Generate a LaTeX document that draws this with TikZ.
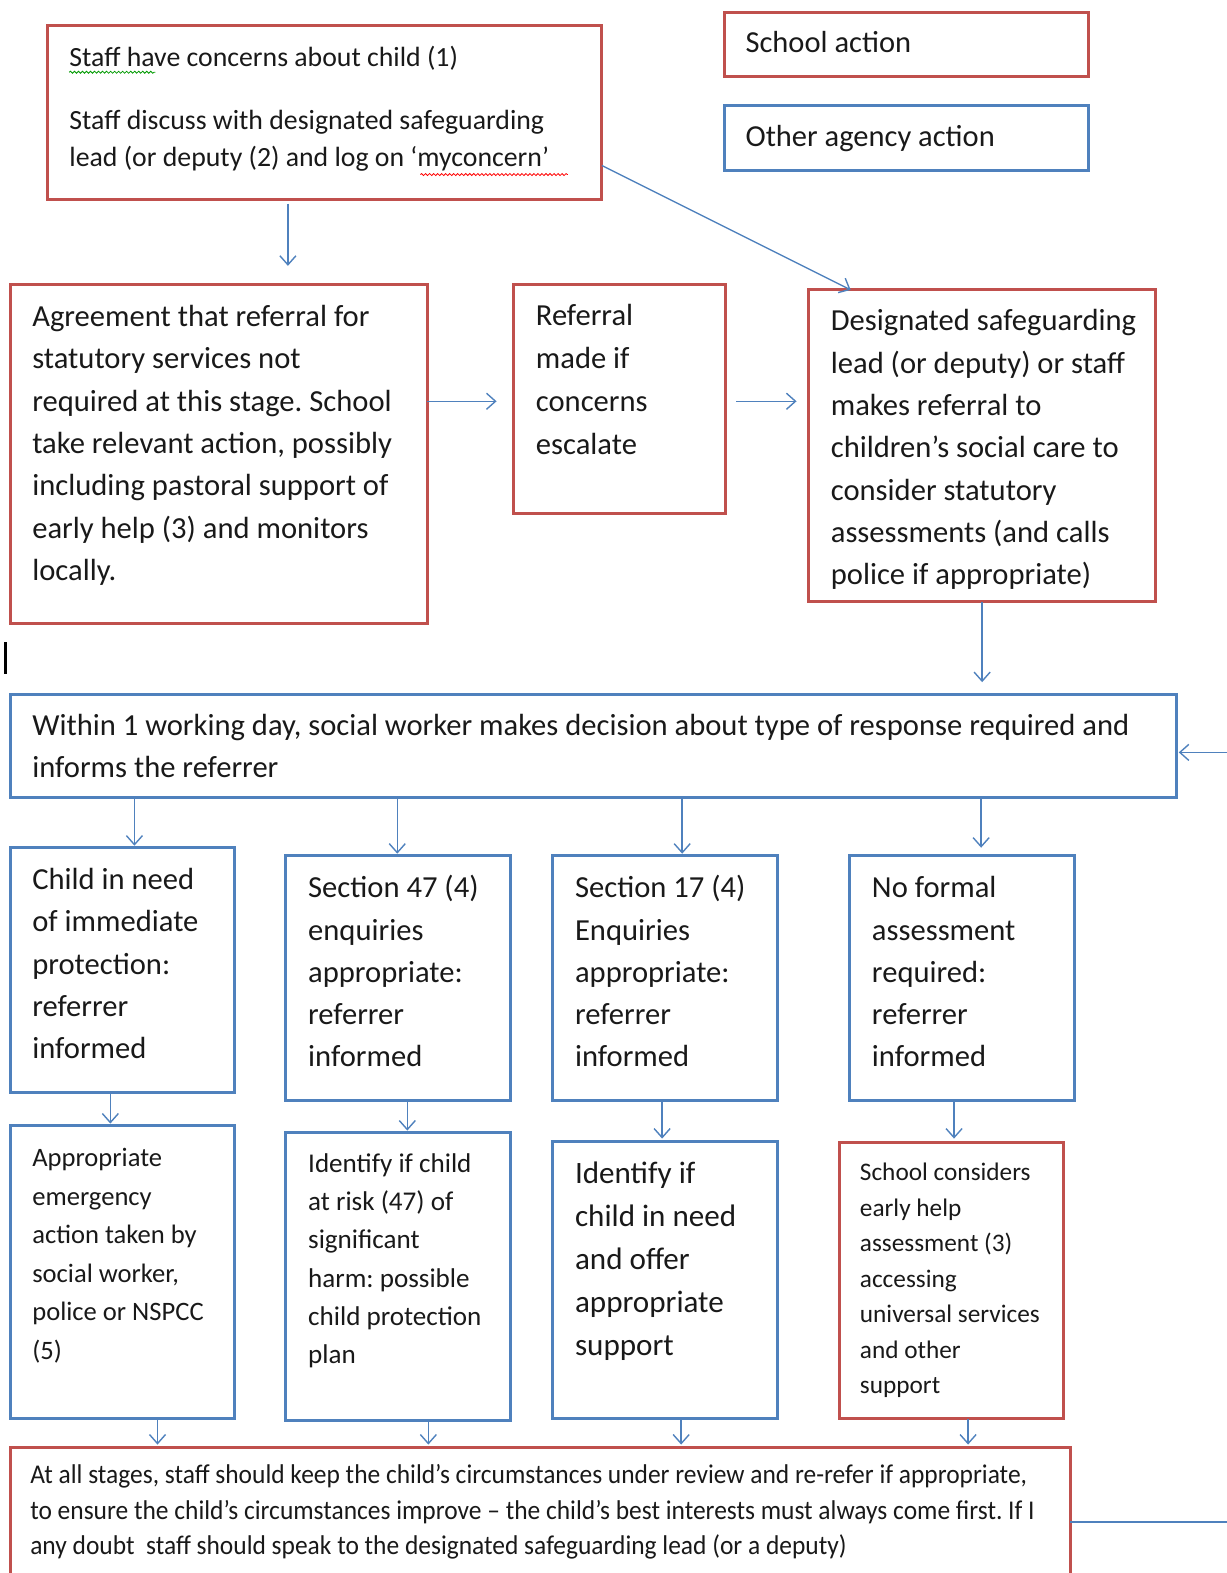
\documentclass[tikz,border=0pt]{standalone}
\usepackage{fontspec}
\setmainfont{Carlito}
\newfontfamily\narrowfont[FakeStretch=0.94]{Carlito}
\usetikzlibrary{arrows.meta,decorations.pathmorphing,calc}
\definecolor{rb}{RGB}{192,80,77}
\definecolor{bb}{RGB}{79,129,189}
\frenchspacing
\begin{document}
\begin{tikzpicture}[x=1pt,y=-1pt,
  boxbase/.style={anchor=north west, line width=3pt, inner sep=0pt, outer sep=0pt},
  rbox/.style={boxbase, draw=rb},
  bbox/.style={boxbase, draw=bb},
  txt/.style={anchor=base west, align=left, inner sep=0pt, text=black!90},
  arr/.style={draw=bb, line width=1.4pt, -{Straight Barb[length=9pt,width=16pt,line width=1.4pt]}},
  conn/.style={draw=bb, line width=1.4pt},
  squig/.style={decorate, decoration={snake, amplitude=1pt, segment length=4pt}, line width=0.8pt}]
\useasboundingbox (0,0) rectangle (1223,1568);

% boxes
\node[rbox, minimum width=553pt, minimum height=174pt] (b1) at (47,25) {};
\node[rbox, minimum width=363pt, minimum height=64pt] (school) at (722,12) {};
\node[bbox, minimum width=363pt, minimum height=65pt] (other) at (722,105) {};
\node[rbox, minimum width=416pt, minimum height=338pt] (agree) at (10,284) {};
\node[rbox, minimum width=211pt, minimum height=228pt] (refer) at (512,284) {};
\node[rbox, minimum width=346pt, minimum height=311pt] (desig) at (806,289) {};
\node[bbox, minimum width=1163pt, minimum height=103pt] (within) at (10,692) {};
\node[bbox, minimum width=224pt, minimum height=244pt] (child) at (10,845) {};
\node[bbox, minimum width=224pt, minimum height=244pt] (sec47) at (285,853) {};
\node[bbox, minimum width=224pt, minimum height=244pt] (sec17) at (551,853) {};
\node[bbox, minimum width=224pt, minimum height=244pt] (nof) at (847,853) {};
\node[bbox, minimum width=224pt, minimum height=292pt] (appr) at (10,1122) {};
\node[bbox, minimum width=224pt, minimum height=287pt] (risk) at (285,1129) {};
\node[bbox, minimum width=224pt, minimum height=276pt] (need) at (551,1138) {};
\node[rbox, minimum width=223pt, minimum height=275pt] (cons) at (837,1139) {};
\node[rbox, minimum width=1057pt, minimum height=160pt] (bottom) at (10,1443) {};

% texts (anchored at the baseline of their last line)
\node[txt, font=\fontsize{27.7}{37}\selectfont] (t1) at (69,166) {Staff have concerns about child (1)\\[26pt]Staff discuss with designated safeguarding\\lead (or deputy (2) and log on ‘myconcern’};
\draw[squig, green!60!black] (69,72) -- (155,72);
\draw[squig, red] (419,174) -- (566,174);
\node[txt, font=\fontsize{30.4}{34}\selectfont] (tschool) at (743,52) {School action};
\node[txt, font=\fontsize{30.4}{34}\selectfont] (tother) at (743,146) {Other agency action};
\node[txt, font=\fontsize{30.5}{42.3}\selectfont] (tagree) at (32,579) {Agreement that referral for\\statutory services not\\required at this stage. School\\take relevant action, possibly\\including pastoral support of\\early help (3) and monitors\\locally.};
\node[txt, font=\fontsize{30.5}{42.7}\selectfont] (trefer) at (534,453) {Referral\\made if\\concerns\\escalate};
\node[txt, font=\fontsize{30.5}{42.2}\selectfont] (tdesig) at (828,583) {Designated safeguarding\\lead (or deputy) or staff\\makes referral to\\children’s social care to\\consider statutory\\assessments (and calls\\police if appropriate)};
\node[txt, font=\fontsize{30.5}{42}\selectfont] (twithin) at (32,775) {Within 1 working day, social worker makes decision about type of response required and\\informs the referrer};
\node[txt, font=\fontsize{30.5}{42}\selectfont] (tchild) at (32,1055) {Child in need\\of immediate\\protection:\\referrer\\informed};
\node[txt, font=\fontsize{30.5}{42}\selectfont] (t47) at (307,1063) {Section 47 (4)\\enquiries\\appropriate:\\referrer\\informed};
\node[txt, font=\fontsize{30.5}{42}\selectfont] (t17) at (573,1063) {Section 17 (4)\\Enquiries\\appropriate:\\referrer\\informed};
\node[txt, font=\fontsize{30.5}{42}\selectfont] (tnof) at (869,1063) {No formal\\assessment\\required:\\referrer\\informed};
\node[txt, font=\fontsize{26.5}{38.4}\selectfont] (tappr) at (32,1355) {Appropriate\\emergency\\action taken by\\social worker,\\police or NSPCC\\(5)};
\node[txt, font=\fontsize{27}{38}\selectfont] (trisk) at (307,1359) {Identify if child\\at risk (47) of\\significant\\harm: possible\\child protection\\plan};
\node[txt, font=\fontsize{31}{42.75}\selectfont] (tneed) at (573,1351) {Identify if\\child in need\\and offer\\appropriate\\support};
\node[txt, font=\fontsize{25.2}{35.3}\selectfont] (tcons) at (857,1389) {School considers\\early help\\assessment (3)\\accessing\\universal services\\and other\\support};
\node[txt, font=\narrowfont\fontsize{27}{35.5}\selectfont] (tbottom) at (30,1550) {At all stages, staff should keep the child’s circumstances under review and re-refer if appropriate,\\to ensure the child’s circumstances improve – the child’s best interests must always come first. If I\\any doubt\ \ staff should speak to the designated safeguarding lead (or a deputy)};

% cursor bar
\draw[line width=3pt, black] (5,640) -- (5,672);

% connectors
\coordinate (rin) at (1223,750);
\coordinate (rout) at (1223,1517);
\draw[arr, shorten <=4pt, shorten >=19pt] ([xshift=-36.5pt]b1.south) -- ([xshift=-36.5pt]b1.south |- agree.north);
\draw[arr] ([yshift=-53pt]b1.east) -- ([xshift=-131pt]desig.north);
\draw[arr, shorten >=17pt] ([yshift=53pt]agree.east) -- ([yshift=53pt]agree.east -| refer.west);
\draw[arr, shorten <=11pt, shorten >=12pt] ([yshift=-2pt]refer.east) -- ([yshift=-2pt]refer.east -| desig.west);
\draw[arr, shorten >=12pt] (desig.south) -- (desig.south |- within.north);
\draw[arr, shorten >=2pt] (rin) -- (rin -| within.east);
\draw[arr, shorten >=2pt] ([xshift=12pt]child.north |- within.south) -- ([xshift=12pt]child.north);
\draw[arr, shorten >=2pt] ([xshift=-1pt]sec47.north |- within.south) -- ([xshift=-1pt]sec47.north);
\draw[arr, shorten >=2pt] ([xshift=17pt]sec17.north |- within.south) -- ([xshift=17pt]sec17.north);
\draw[arr, shorten >=8pt] ([xshift=19pt]nof.north |- within.south) -- ([xshift=19pt]nof.north);
\draw[arr, shorten >=2pt] ([xshift=-12pt]child.south) -- ([xshift=-12pt]child.south |- appr.north);
\draw[arr, shorten >=2pt] ([xshift=9pt]sec47.south) -- ([xshift=9pt]sec47.south |- risk.north);
\draw[arr, shorten >=3pt] ([xshift=-3pt]sec17.south) -- ([xshift=-3pt]sec17.south |- need.north);
\draw[arr, shorten >=4pt] ([xshift=-8pt]nof.south) -- ([xshift=-8pt]nof.south |- cons.north);
\draw[arr, shorten >=3pt] ([xshift=35pt]appr.south) -- ([xshift=35pt]appr.south |- bottom.north);
\draw[arr, shorten >=3pt] ([xshift=30pt]risk.south) -- ([xshift=30pt]risk.south |- bottom.north);
\draw[arr, shorten >=3pt] ([xshift=16pt]need.south) -- ([xshift=16pt]need.south |- bottom.north);
\draw[arr, shorten >=3pt] ([xshift=16.5pt]cons.south) -- ([xshift=16.5pt]cons.south |- bottom.north);
\draw[conn] (rout -| bottom.east) -- (rout);
\end{tikzpicture}
\end{document}
